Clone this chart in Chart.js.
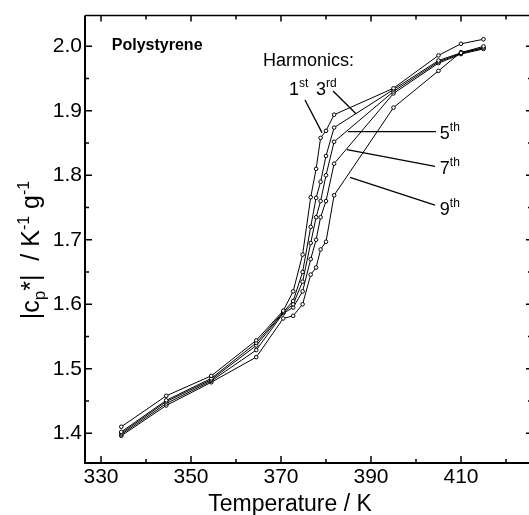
<!DOCTYPE html>
<html>
<head>
<meta charset="utf-8">
<script src="https://cdn.jsdelivr.net/npm/chart.js@4.4.1/dist/chart.umd.min.js"></script>
<style>
    html, body { margin: 0; padding: 0; background: #fff; overflow: hidden; }
    #box { width: 540px; height: 515px; }
</style>
</head>
<body>
<div id="box"><canvas id="grafico" width="540" height="515"></canvas></div>
<script>
// temperaturas medidas (K)
const temperaturas = [334.5, 344.5, 354.5, 364.5, 370.5, 372.7, 374.8, 376.6, 377.8, 378.8, 380.0, 381.8, 395, 405, 410, 415];

// |cp*| para cada harmonica (J K-1 g-1)
const harm1 = [1.410, 1.458, 1.489, 1.544, 1.590, 1.620, 1.677, 1.766, 1.810, 1.858, 1.869, 1.894, 1.935, 1.986, 2.004, 2.011];
const harm3 = [1.402, 1.451, 1.485, 1.540, 1.588, 1.605, 1.650, 1.720, 1.765, 1.790, 1.830, 1.874, 1.933, 1.978, 1.990, 2.000];
const harm5 = [1.400, 1.449, 1.483, 1.536, 1.587, 1.600, 1.635, 1.695, 1.735, 1.760, 1.800, 1.852, 1.930, 1.976, 1.989, 1.998];
const harm7 = [1.398, 1.446, 1.481, 1.529, 1.586, 1.595, 1.620, 1.670, 1.700, 1.735, 1.760, 1.818, 1.927, 1.974, 1.988, 1.996];
const harm9 = [1.396, 1.443, 1.479, 1.518, 1.578, 1.582, 1.600, 1.646, 1.657, 1.685, 1.697, 1.769, 1.905, 1.962, 1.991, 1.997];

const ticksX = [330, 350, 370, 390, 410];
const ticksY = [1.4, 1.5, 1.6, 1.7, 1.8, 1.9, 2.0];

const fonte = '"Liberation Sans", Arial, sans-serif';

function pontos(valores) {
    return temperaturas.map((t, i) => ({ x: t, y: valores[i] }));
}

function serie(valores) {
    return {
        data: pontos(valores),
        borderColor: '#000',
        borderWidth: 1,
        pointRadius: 1.8,
        pointBorderWidth: 1,
        pointBackgroundColor: '#fff',
        pointBorderColor: '#000',
        tension: 0,
        fill: false
    };
}

// texto com partes em sobrescrito/subscrito, desenhado a partir de x
function textoMisto(ctx, partes, x, y) {
    partes.forEach(p => {
        ctx.font = p.tam + 'px ' + fonte;
        ctx.fillText(p.t, x, y + (p.dy || 0));
        x += ctx.measureText(p.t).width;
    });
    return x;
}

function larguraMista(ctx, partes) {
    let w = 0;
    partes.forEach(p => {
        ctx.font = p.tam + 'px ' + fonte;
        w += ctx.measureText(p.t).width;
    });
    return w;
}

// moldura, marcas internas e anotacoes
const moldura = {
    id: 'moldura',
    afterDraw(chart) {
        const ctx = chart.ctx;
        const a = chart.chartArea;
        const sx = chart.scales.x;
        const sy = chart.scales.y;
        const px = v => sx.getPixelForValue(v);
        const py = v => sy.getPixelForValue(v);

        ctx.save();
        ctx.strokeStyle = '#000';
        ctx.fillStyle = '#000';

        // eixos
        ctx.lineWidth = 2;
        ctx.beginPath();
        ctx.moveTo(a.left, a.top);
        ctx.lineTo(a.left, a.bottom);
        ctx.lineTo(a.right, a.bottom);
        ctx.stroke();
        ctx.lineWidth = 1.5;
        ctx.beginPath();
        ctx.moveTo(a.left, a.top);
        ctx.lineTo(a.right, a.top);
        ctx.lineTo(a.right, a.bottom);
        ctx.stroke();

        // marcas do eixo x (a cada 10 K)
        ctx.lineWidth = 1.5;
        for (let t = 330; t <= 420; t += 10) {
            const x = px(t);
            const maior = ticksX.includes(t);
            ctx.beginPath();
            ctx.moveTo(x, a.bottom);
            ctx.lineTo(x, a.bottom - (maior ? 7 : 4));
            ctx.moveTo(x, a.top);
            ctx.lineTo(x, a.top + (maior ? 6 : 4));
            ctx.stroke();
        }
        // marcas do eixo y (a cada 0.05)
        for (let k = 0; k <= 12; k++) {
            const v = 1.4 + k * 0.05;
            const y = py(v);
            const maior = k % 2 === 0;
            ctx.beginPath();
            ctx.moveTo(a.left, y);
            ctx.lineTo(a.left + (maior ? 7 : 4), y);
            ctx.moveTo(a.right, y);
            ctx.lineTo(a.right - (maior ? 6 : 4), y);
            ctx.stroke();
        }

        // titulo do eixo x
        ctx.font = '23px ' + fonte;
        ctx.textAlign = 'center';
        ctx.textBaseline = 'alphabetic';
        ctx.fillText('Temperature / K', 290, 511);

        // titulo do eixo y: |cp*| / K-1 g-1
        const tituloY = [
            { t: '|c', tam: 25 },
            { t: 'p', tam: 17, dy: 6 },
            { t: '*', tam: 25 },
            { t: '|  / K', tam: 25 },
            { t: '-1', tam: 16, dy: -10 },
            { t: ' g', tam: 25 },
            { t: '-1', tam: 16, dy: -10 }
        ];
        ctx.textAlign = 'left';
        ctx.save();
        ctx.translate(39, 250);
        ctx.rotate(-Math.PI / 2);
        textoMisto(ctx, tituloY, -larguraMista(ctx, tituloY) / 2, 0);
        ctx.restore();

        // nome da amostra
        ctx.font = 'bold 16px ' + fonte;
        ctx.fillText('Polystyrene', px(332.4), py(1.994));

        // harmonicas
        ctx.font = '18px ' + fonte;
        ctx.fillText('Harmonics:', px(366), py(1.969));

        const rotulos = [
            { n: '1', s: 'st', t: 371.8, v: 1.925 },
            { n: '3', s: 'rd', t: 377.8, v: 1.925 },
            { n: '5', s: 'th', t: 405.3, v: 1.857 },
            { n: '7', s: 'th', t: 405.3, v: 1.8015 },
            { n: '9', s: 'th', t: 405.3, v: 1.738 }
        ];
        rotulos.forEach(r => {
            textoMisto(ctx, [{ t: r.n, tam: 18 }, { t: r.s, tam: 12, dy: -8 }], px(r.t), py(r.v));
        });

        // linhas de chamada
        const chamadas = [
            [375.33, 1.9169, 379.11, 1.8662],
            [381.56, 1.9308, 386.67, 1.8954],
            [384.89, 1.8677, 404.44, 1.8677],
            [384.67, 1.8400, 404.22, 1.8138],
            [385.33, 1.7969, 404.22, 1.7538]
        ];
        ctx.lineWidth = 1.3;
        chamadas.forEach(c => {
            ctx.beginPath();
            ctx.moveTo(px(c[0]), py(c[1]));
            ctx.lineTo(px(c[2]), py(c[3]));
            ctx.stroke();
        });

        ctx.restore();
    }
};

new Chart(document.getElementById('grafico').getContext('2d'), {
    type: 'line',
    data: {
        datasets: [serie(harm1), serie(harm3), serie(harm5), serie(harm7), serie(harm9)]
    },
    options: {
        responsive: false,
        animation: false,
        events: [],
        layout: { padding: { top: 12, right: 8, left: 0, bottom: 0 } },
        plugins: {
            legend: { display: false },
            tooltip: { enabled: false }
        },
        scales: {
            x: {
                type: 'linear',
                min: 326.44,
                max: 425.78,
                afterBuildTicks: s => { s.ticks = ticksX.map(v => ({ value: v })); },
                afterFit: s => { s.height = 52; },
                grid: { display: false, drawTicks: false },
                border: { display: false },
                ticks: {
                    padding: 2,
                    color: '#000',
                    font: { family: fonte, size: 21 },
                    maxRotation: 0,
                    callback: v => String(v)
                }
            },
            y: {
                type: 'linear',
                min: 1.3538,
                max: 2.0477,
                afterBuildTicks: s => { s.ticks = ticksY.map(v => ({ value: v })); },
                afterFit: s => { s.width = 85; },
                grid: { display: false, drawTicks: false },
                border: { display: false },
                ticks: {
                    padding: 3,
                    color: '#000',
                    font: { family: fonte, size: 21 },
                    callback: v => v.toFixed(1)
                }
            }
        }
    },
    plugins: [moldura]
});
</script>
</body>
</html>
